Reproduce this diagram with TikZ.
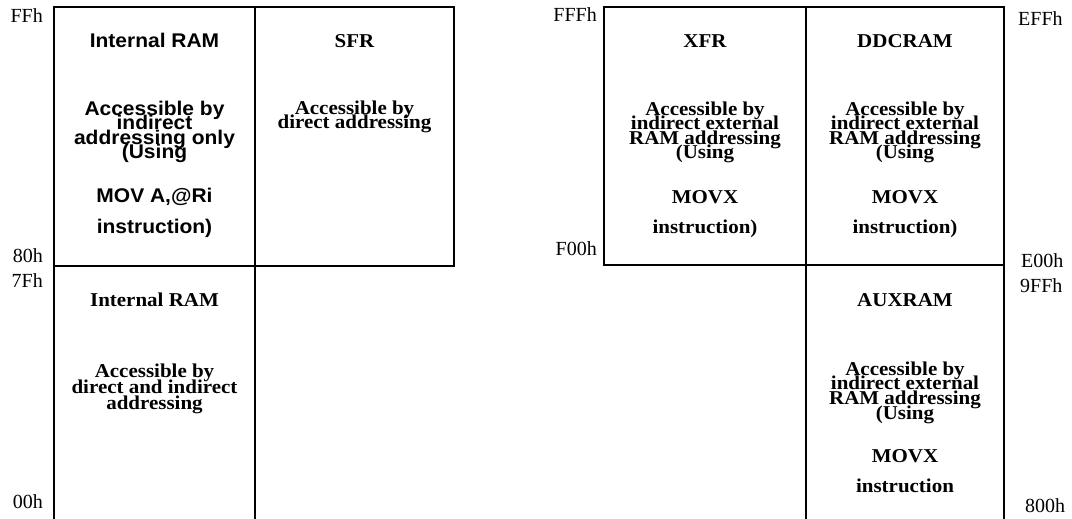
\documentclass[tikz,border=0pt]{standalone}
\usepackage{fontspec}
\setmainfont{Liberation Serif}
\newfontfamily\serwide{Liberation Serif}[FakeStretch=1.07]
\newfontfamily\ariwide{Liberation Sans}[FakeStretch=1.06]
\newcommand{\firstln}{\rule{0pt}{16pt}}
\begin{document}
\begin{tikzpicture}[x=1pt,y=-1pt,
  frame/.style={draw=black, line width=2pt, inner sep=0pt, outer sep=0pt},
  wall/.style={draw=black, line width=2pt},
  serb/.style={font=\serwide\fontsize{19.6}{16}\selectfont\bfseries, anchor=base, inner sep=0pt},
  arib/.style={font=\ariwide\fontsize{19.8}{16}\selectfont\bfseries, anchor=base, inner sep=0pt},
  tight/.style={execute at begin node={\lineskiplimit=-100pt\relax\lineskip=0pt\relax}},
  serpar/.style={font=\serwide\fontsize{19.6}{14.5}\selectfont\bfseries, tight, align=center, anchor=north, inner sep=0pt},
  aripar/.style={font=\ariwide\fontsize{19.8}{14.5}\selectfont\bfseries, tight, align=center, anchor=north, inner sep=0pt},
  addrL/.style={font=\fontsize{20}{20}\selectfont, anchor=base east, inner sep=0pt},
  addrR/.style={font=\fontsize{20}{20}\selectfont, anchor=base west, inner sep=0pt}]
\useasboundingbox (0,0) rectangle (1072,519);

% boxes
\node[frame, anchor=north west, minimum width=201pt, minimum height=259pt] (ul) at (54,7) {};
\node[frame, anchor=north west, minimum width=199pt, minimum height=259pt] (sfr) at (255,7) {};
\node[frame, anchor=north west, minimum width=202pt, minimum height=258pt] (xfr) at (604,7) {};
\node[frame, anchor=north west, minimum width=198pt, minimum height=258pt] (ddc) at (806,7) {};
\coordinate (llbl) at (54,519);
\coordinate (llbr) at (255,519);
\coordinate (auxbl) at (806,519);
\coordinate (auxbr) at (1004,519);
\draw[wall] (ul.south west) -- (llbl);
\draw[wall] (ul.south east) -- (llbr);
\draw[wall] (ddc.south west) -- (auxbl);
\draw[wall] (ddc.south east) -- (auxbr);

% upper-left box (first baseline 115 -> top 99)
\node[arib] (ul1) at (154.5,48) {Internal RAM};
\node[aripar] (ul2) at (154.5,99) {\firstln Accessible by\\indirect\\addressing only\\(Using};
\node[arib] (ul6) at (154.5,202) {MOV A,@Ri};
\node[arib] (ul7) at (154.5,233) {instruction)};

% SFR
\node[serb] (s1) at (354.5,48) {SFR};
\node[serpar, font=\serwide\fontsize{19.6}{14}\selectfont\bfseries] (s2) at (354.5,98) {\firstln Accessible by\\direct addressing};

% lower-left
\node[serb] (l1) at (154.5,306) {Internal RAM};
\node[serpar, font=\serwide\fontsize{19.6}{16}\selectfont\bfseries] (l2) at (154.5,361) {\firstln Accessible by\\direct and indirect\\addressing};

% XFR
\node[serb] (x1) at (705,48) {XFR};
\node[serpar] (x2) at (705,99) {\firstln Accessible by\\indirect external\\RAM addressing\\(Using};
\node[serb] (x6) at (705,203) {MOVX};
\node[serb] (x7) at (705,233) {instruction)};

% DDCRAM
\node[serb] (d1) at (905,48) {DDCRAM};
\node[serpar] (d2) at (905,99) {\firstln Accessible by\\indirect external\\RAM addressing\\(Using};
\node[serb] (d6) at (905,203) {MOVX};
\node[serb] (d7) at (905,233) {instruction)};

% AUXRAM
\node[serb] (a1) at (905,306) {AUXRAM};
\node[serpar, font=\serwide\fontsize{19.6}{14.7}\selectfont\bfseries] (a2) at (905,359) {\firstln Accessible by\\indirect external\\RAM addressing\\(Using};
\node[serb] (a6) at (905,462) {MOVX};
\node[serb] (a7) at (905,492) {instruction};

% address labels
\node[addrL] (aFF) at (43,23) {FFh};
\node[addrL] (a80) at (43,262) {80h};
\node[addrL] (a7F) at (43,287) {7Fh};
\node[addrL] (a00) at (43,508) {00h};
\node[addrL] (aFFF) at (597,22) {FFFh};
\node[addrL] (aF00) at (597,255) {F00h};
\node[addrR] (aEFF) at (1018,26) {EFFh};
\node[addrR] (aE00) at (1021,267) {E00h};
\node[addrR] (a9FF) at (1020,292) {9FFh};
\node[addrR] (a800) at (1025,512) {800h};
\end{tikzpicture}
\end{document}
